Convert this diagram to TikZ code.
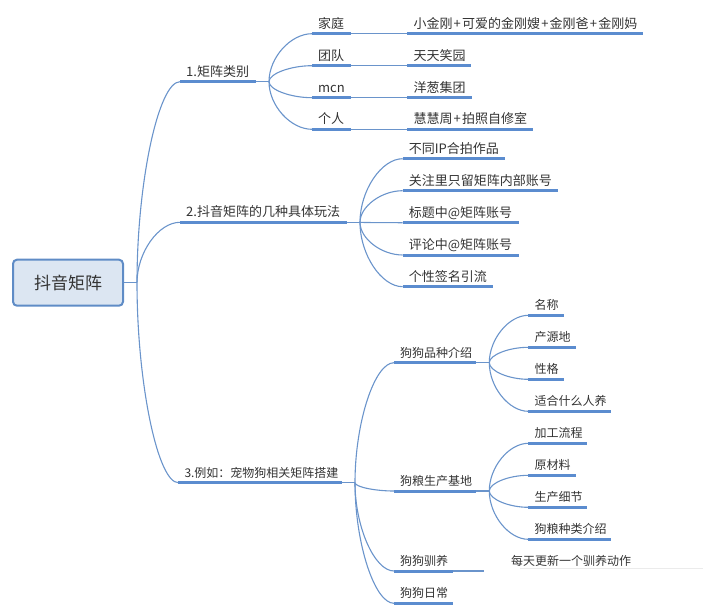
\documentclass[tikz,border=0pt]{standalone}
\usepackage{fontspec}
\setmainfont{Noto Sans CJK SC}
\usetikzlibrary{calc}
\definecolor{ul}{HTML}{5B8CCF}
\definecolor{ln}{HTML}{6A94CB}
\definecolor{tx}{HTML}{333333}
\definecolor{rootfill}{HTML}{DCE6F2}
\definecolor{rootline}{HTML}{5F8CC6}
\newcommand\mmfont{\fontsize{13}{15}\selectfont}
\tikzset{
  conn/.style={draw=ln, line width=1.1pt},
  uline/.style={draw=ul, line width=3pt},
  lbl/.style={text=tx, font=\mmfont, inner sep=0pt, anchor=base west},
  rootbox/.style={draw=rootline, fill=rootfill, line width=2pt, rounded corners=4pt,
    text=tx, font=\fontsize{17}{20}\selectfont, minimum width=110pt, minimum height=46pt, inner sep=0pt},
  branch/.style={to path={.. controls ($(\tikztostart)!0.5!(\tikztostart|-\tikztotarget)$) and ($(\tikztotarget)!0.5!(\tikztostart|-\tikztotarget)$) .. (\tikztotarget)}},
}
\newcommand\mmtopic[5]{%
  \coordinate (#1-s) at (#2,#4);
  \coordinate (#1-e) at (#3,#4);
  \node[lbl] (#1) at ({#2+6},{#4-5.5}) {#5};
  \draw[uline] (#1-s) -- (#1-e);
}
\newcommand\pl{\kern1.2pt+\kern1.2pt}
\begin{document}
\begin{tikzpicture}[x=1pt,y=-1pt]
\useasboundingbox (0,0) rectangle (720,608);
% root
\node[rootbox] (root) at (68,282.7) {抖音矩阵};
\coordinate (T) at (137,282.7);
\draw[conn] (root.east) -- (T);

% branch 1
\mmtopic{b1}{180}{256}{81.7}{1.矩阵类别}
\coordinate (F1) at (269,81.7);
\draw[conn] (b1-e) -- (F1);
\mmtopic{b1a}{312}{350.7}{33.7}{家庭}
\mmtopic{b1b}{312}{350.7}{65.7}{团队}
\mmtopic{b1c}{312}{350.7}{97.7}{mcn}
\mmtopic{b1d}{312}{350.7}{129.3}{个人}
\mmtopic{l1a}{407.3}{642.7}{33.7}{小金刚\pl 可爱的金刚嫂\pl 金刚爸\pl 金刚妈}
\mmtopic{l1b}{407.3}{471}{65.7}{天天笑园}
\mmtopic{l1c}{407.3}{472}{97.7}{洋葱集团}
\mmtopic{l1d}{407.3}{532.7}{129.3}{慧慧周\pl 拍照自修室}
\foreach \c in {b1a,b1b,b1c,b1d} \draw[conn] (F1) to[branch] (\c-s);
\draw[conn] (b1a-e) -- (l1a-s);
\draw[conn] (b1b-e) -- (l1b-s);
\draw[conn] (b1c-e) -- (l1c-s);
\draw[conn] (b1d-e) -- (l1d-s);

% branch 2
\mmtopic{b2}{180}{346.7}{222.3}{2.抖音矩阵的几种具体玩法}
\coordinate (F2) at (360,222.3);
\draw[conn] (b2-e) -- (F2);
\mmtopic{b2a}{402.7}{504.7}{158.7}{不同IP合拍作品}
\mmtopic{b2b}{402.7}{558}{190.7}{关注里只留矩阵内部账号}
\mmtopic{b2c}{402.7}{519}{222.7}{标题中@矩阵账号}
\mmtopic{b2d}{402.7}{519}{255}{评论中@矩阵账号}
\mmtopic{b2e}{402.7}{492.7}{286.7}{个性签名引流}
\foreach \c in {b2a,b2b,b2c,b2d,b2e} \draw[conn] (F2) to[branch] (\c-s);

% branch 3 (smaller type)
\renewcommand\mmfont{\fontsize{12}{14}\selectfont}
\mmtopic{b3}{178.3}{341.7}{482.7}{3.例如：宠物狗相关矩阵搭建}
\coordinate (F3) at (355,482.7);
\draw[conn] (b3-e) -- (F3);
\mmtopic{b3a}{394}{476}{362.7}{狗狗品种介绍}
\mmtopic{b3b}{394}{476}{491}{狗粮生产基地}
\mmtopic{b3c}{394}{452.7}{571}{狗狗驯养}
\mmtopic{b3d}{394}{452.7}{603.3}{狗狗日常}
\foreach \c in {b3a,b3b,b3c,b3d} \draw[conn] (F3) to[branch] (\c-s);

\coordinate (F3a) at (489.3,362.7);
\draw[conn] (b3a-e) -- (F3a);
\mmtopic{s1}{528.3}{564}{315.3}{名称}
\mmtopic{s2}{528.3}{575.7}{347.3}{产源地}
\mmtopic{s3}{528.3}{564}{379.3}{性格}
\mmtopic{s4}{528.3}{611}{411.3}{适合什么人养}
\foreach \c in {s1,s2,s3,s4} \draw[conn] (F3a) to[branch] (\c-s);

\coordinate (F3b) at (489.3,491);
\draw[conn] (b3b-e) -- (F3b);
\mmtopic{s5}{528.3}{587.3}{443.3}{加工流程}
\mmtopic{s6}{528.3}{575.7}{475.3}{原材料}
\mmtopic{s7}{528.3}{587.3}{507.3}{生产细节}
\mmtopic{s8}{528.3}{611}{539.3}{狗粮种类介绍}
\foreach \c in {s5,s6,s7,s8} \draw[conn] (F3b) to[branch] (\c-s);

\coordinate (F3c) at (484.3,571);
\draw[conn] (b3c-e) -- (F3c);
\node[lbl] (l3c) at (511,565) {每天更新一个驯养动作};
\coordinate (l3c-s) at (520,568);
\coordinate (l3c-e) at (703,568);
\draw[draw=black!8, line width=1pt] (l3c-s) -- (l3c-e);

% trunk
\draw[conn] (T) to[branch] (b1-s);
\draw[conn] (T) to[branch] (b2-s);
\draw[conn] (T) to[branch] (b3-s);
\end{tikzpicture}
\end{document}
